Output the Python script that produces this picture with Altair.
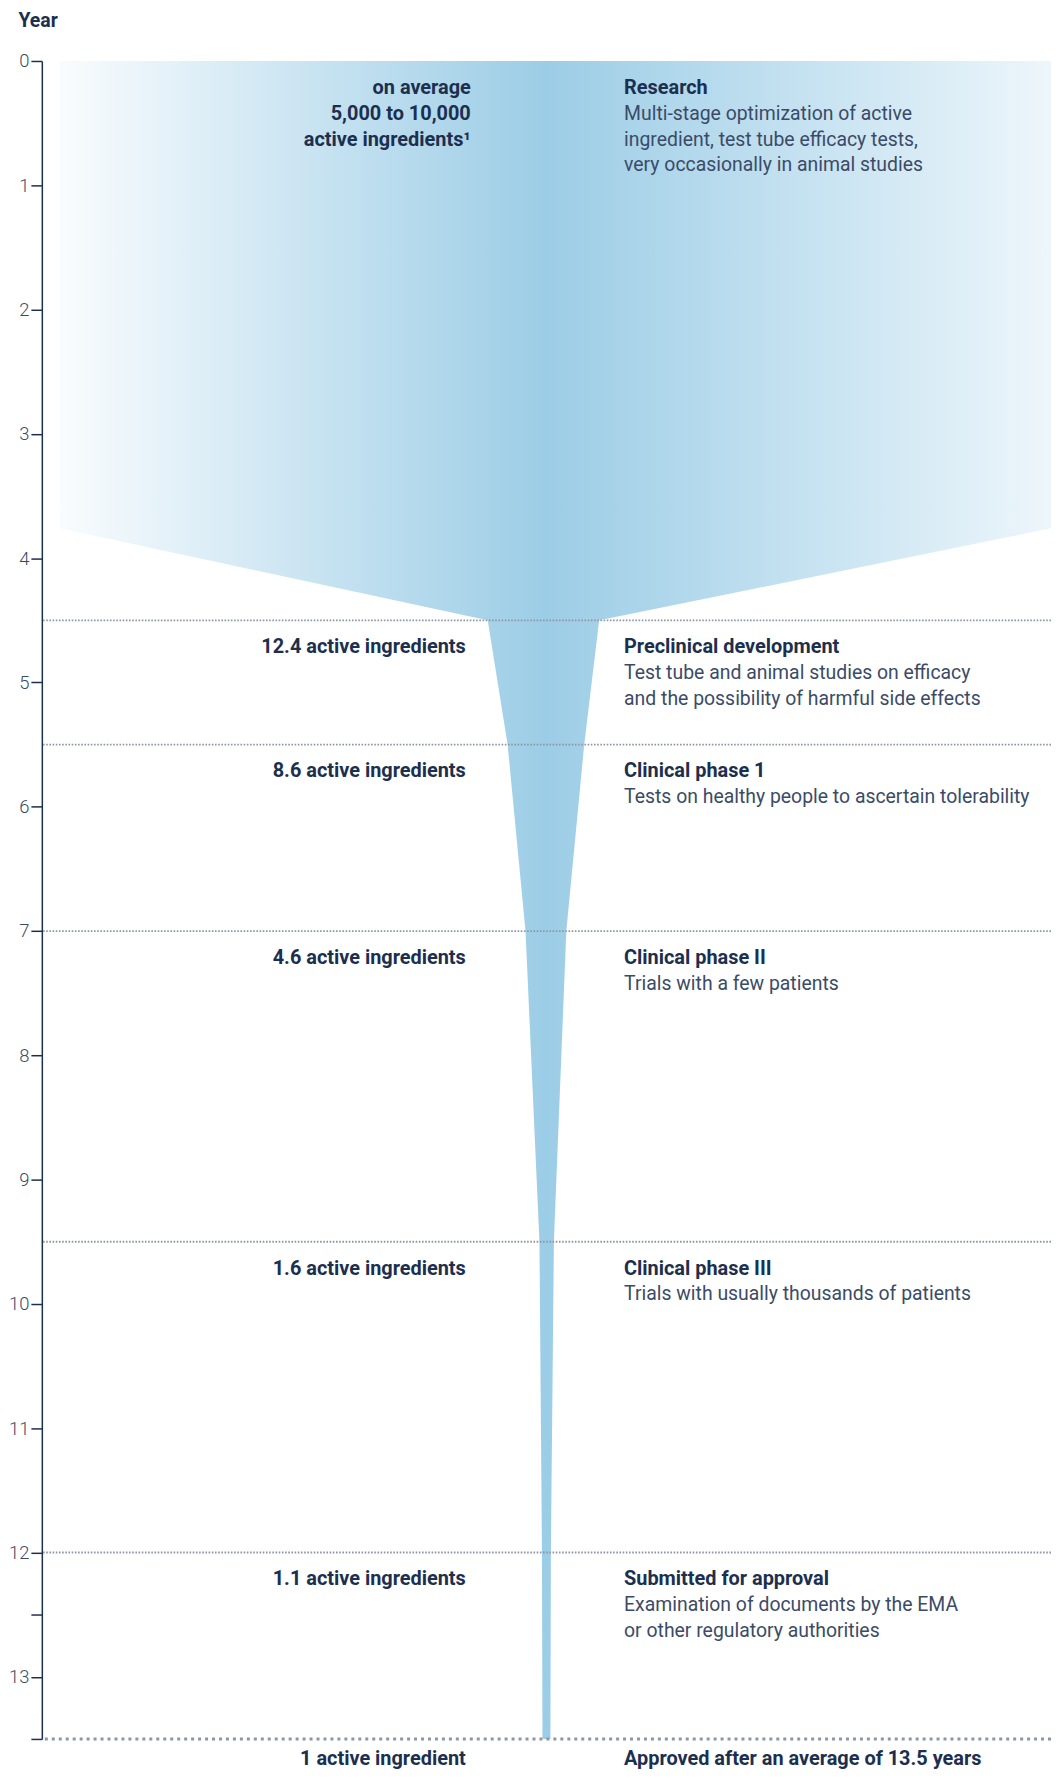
import altair as alt
import pandas as pd

# ---------------- data ----------------
# funnel outline (years on y, edge positions relative to the funnel centre)
funnel_years = [0.0, 3.76, 4.5, 5.5, 7.0, 9.5, 12.0, 13.5]
funnel_left = [-489, -489, -59, -39, -21, -7, -4.5, -4]
funnel_right = [507, 507, 53, 38, 20, 7.5, 4.5, 4]

stage_years = [0.0, 4.5, 5.5, 7.0, 9.5, 12.0]
stage_titles = ["Research", "Preclinical development", "Clinical phase 1",
                "Clinical phase II", "Clinical phase III", "Submitted for approval"]
stage_desc = [
    "Multi-stage optimization of active\ningredient, test tube efficacy tests,\nvery occasionally in animal studies",
    "Test tube and animal studies on efficacy\nand the possibility of harmful side effects",
    "Tests on healthy people to ascertain tolerability",
    "Trials with a few patients",
    "Trials with usually thousands of patients",
    "Examination of documents by the EMA\nor other regulatory authorities",
]
count_years = [4.5, 5.5, 7.0, 9.5, 12.0]
count_labels = ["12.4 active ingredients", "8.6 active ingredients", "4.6 active ingredients",
                "1.6 active ingredients", "1.1 active ingredients"]
research_label = "on average\n5,000 to 10,000\nactive ingredients¹"

end_year = 13.5
end_left = "1 active ingredient"
end_right = "Approved after an average of 13.5 years"

tick_values = [0, 1, 2, 3, 4, 5, 6, 7, 8, 9, 10, 11, 12, 12.5, 13, 13.5]

# ---------------- styling ----------------
NAVY = "#1c2f4f"
SLATE = "#3b4b67"
DOT = "#8d96a6"
FONT = "Roboto"
BOLD_SIZE = 20
DESC_SIZE = 19.5

YS = alt.Scale(domain=[0, 13.5], reverse=True, nice=False, zero=False)
XS = alt.Scale(domain=[-507, 507], nice=False, zero=False)
AXIS = alt.Axis(
    values=tick_values,
    labelExpr="datum.value % 1 == 0 ? datum.label : ''",
    grid=False,
    domainColor=NAVY, domainWidth=1.5,
    tickColor=NAVY, tickWidth=1.5, tickSize=11,
    labelFont=FONT, labelFontSize=18.5, labelFontWeight=300, labelColor=SLATE,
    labelPadding=2,
    title="Year", titleAngle=0, titleAlign="left", titleBaseline="alphabetic",
    titleX=-24, titleY=-35, titleFont=FONT, titleFontSize=19.5,
    titleFontWeight="bold", titleColor=NAVY,
)


def Y(field="year"):
    return alt.Y(f"{field}:Q", scale=YS, axis=AXIS)


funnel_df = pd.DataFrame({"year": funnel_years, "left": funnel_left, "right": funnel_right})
stage_df = pd.DataFrame({"year": stage_years, "title": stage_titles, "desc": stage_desc})
count_df = pd.DataFrame({"year": count_years, "label": count_labels})
research_df = pd.DataFrame({"year": [0.0], "label": [research_label]})
rule_df = pd.DataFrame({"year": count_years})
end_df = pd.DataFrame({"year": [end_year], "left": [end_left], "right": [end_right]})

gradient = alt.Gradient(
    gradient="linear", x1=0, x2=1, y1=0, y2=0,
    stops=[
        alt.GradientStop(offset=0.0, color="#f9fcfe"),
        alt.GradientStop(offset=0.491, color="#9ccde6"),
        alt.GradientStop(offset=1.0, color="#edf6fb"),
    ],
)

funnel = alt.Chart(funnel_df).mark_area(orient="horizontal", color=gradient).encode(
    y=Y(),
    x=alt.X("left:Q", scale=XS, axis=None),
    x2="right:Q",
)

rules = alt.Chart(rule_df).mark_rule(
    color=DOT, strokeWidth=1.8, strokeDash=[1.6, 1.6]
).encode(y=Y())

end_rule = alt.Chart(end_df).mark_rule(
    color=DOT, strokeWidth=3, strokeDash=[3, 4]
).encode(y=Y())

research_text = alt.Chart(research_df).mark_text(
    align="right", baseline="alphabetic", dy=33, lineBreak="\n", lineHeight=26,
    font=FONT, fontSize=BOLD_SIZE, fontWeight="bold", color=NAVY,
).encode(y=Y(), x=alt.XDatum(-76, scale=XS, axis=None), text="label:N")

count_text = alt.Chart(count_df).mark_text(
    align="right", baseline="alphabetic", dy=33,
    font=FONT, fontSize=BOLD_SIZE, fontWeight="bold", color=NAVY,
).encode(y=Y(), x=alt.XDatum(-81, scale=XS, axis=None), text="label:N")

title_text = alt.Chart(stage_df).mark_text(
    align="left", baseline="alphabetic", dy=33,
    font=FONT, fontSize=BOLD_SIZE, fontWeight="bold", color=NAVY,
).encode(y=Y(), x=alt.XDatum(78, scale=XS, axis=None), text="title:N")

desc_text = alt.Chart(stage_df).mark_text(
    align="left", baseline="alphabetic", dy=59, lineBreak="\n", lineHeight=26,
    font=FONT, fontSize=DESC_SIZE, fontWeight=400, color=SLATE,
).encode(y=Y(), x=alt.XDatum(78, scale=XS, axis=None), text="desc:N")

end_left_text = alt.Chart(end_df).mark_text(
    align="right", baseline="alphabetic", dy=26,
    font=FONT, fontSize=BOLD_SIZE, fontWeight="bold", color=NAVY,
).encode(y=Y(), x=alt.XDatum(-81, scale=XS, axis=None), text="left:N")

end_right_text = alt.Chart(end_df).mark_text(
    align="left", baseline="alphabetic", dy=26,
    font=FONT, fontSize=BOLD_SIZE, fontWeight="bold", color=NAVY,
).encode(y=Y(), x=alt.XDatum(78, scale=XS, axis=None), text="right:N")

chart = alt.layer(
    funnel, rules, end_rule, research_text, count_text, title_text, desc_text,
    end_left_text, end_right_text,
).properties(
    width=1014, height=1686,
    padding={"left": 34, "top": 49, "right": 0, "bottom": 31},
    autosize=alt.AutoSizeParams(type="none"),
    background="white",
).configure_view(stroke=None)

chart.save("out.html", embed_options={"renderer": "svg", "actions": False})
